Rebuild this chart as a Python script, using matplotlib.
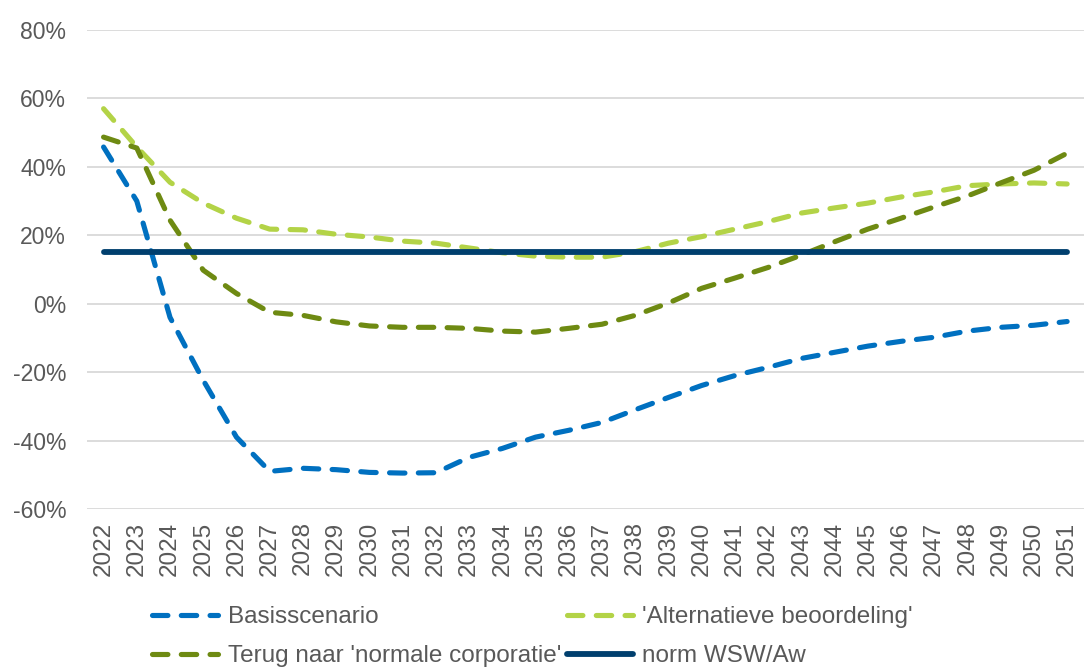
import matplotlib.pyplot as plt
from matplotlib.ticker import FuncFormatter

plt.rcParams['font.family'] = ['Liberation Sans', 'DejaVu Sans']

years = list(range(2022, 2052))

basis = [45.8, 30.0, -4.0, -22.4, -39.0, -49.0, -48.1, -48.5, -49.3, -49.5,
         -49.4, -44.9, -42.3, -39.0, -37.0, -34.7, -31.0, -27.4, -23.9, -21.0,
         -18.6, -16.0, -14.2, -12.4, -11.0, -9.8, -8.0, -6.9, -6.3, -5.2]

alternatief = [57.0, 45.8, 35.5, 29.4, 25.0, 21.8, 21.6, 20.3, 19.5, 18.3,
               17.7, 16.3, 14.9, 13.9, 13.6, 13.6, 15.2, 17.7, 19.6, 21.8,
               24.0, 26.5, 28.0, 29.4, 31.2, 32.7, 34.5, 35.0, 35.3, 35.0]

terug = [48.7, 45.5, 24.4, 9.8, 3.0, -2.5, -3.4, -5.3, -6.5, -6.9,
         -6.9, -7.2, -8.0, -8.3, -7.2, -6.0, -3.4, 0.2, 4.5, 7.5,
         10.6, 14.2, 18.1, 21.8, 25.0, 28.3, 31.5, 35.3, 39.0, 44.0]

norm = [15.0] * len(years)

labels = ["Basisscenario", "'Alternatieve beoordeling'",
          "Terug naar 'normale corporatie'", "norm WSW/Aw"]

grey = '#595959'

fig = plt.figure(figsize=(10.87, 6.70), dpi=100)
ax = fig.add_axes([0.080, 0.2403, 0.917, 0.7149])

x = list(range(len(years)))
dash = (3.0, 2.6)
l1, = ax.plot(x, basis, color='#0070C0', lw=3.7, dashes=dash,
              dash_capstyle='round')
l2, = ax.plot(x, alternatief, color='#B3D347', lw=3.7, dashes=dash,
              dash_capstyle='round')
l3, = ax.plot(x, terug, color='#6E8A12', lw=3.7, dashes=dash,
              dash_capstyle='round')
l4, = ax.plot(x, norm, color='#003F6E', lw=4.2, solid_capstyle='round')

ax.set_xlim(-0.5, len(years) - 0.5)
ax.set_ylim(-60, 80)
ax.set_yticks(range(-60, 81, 20))
ax.yaxis.set_major_formatter(FuncFormatter(lambda v, p: f"{v:.0f}%"))
ax.set_xticks(x)
ax.set_xticklabels([str(y) for y in years], rotation=90)

ax.grid(axis='y', color='#D9D9D9', lw=1.3)
ax.set_axisbelow(True)
for s in ax.spines.values():
    s.set_visible(False)
ax.tick_params(axis='both', length=0, labelsize=16.5, labelcolor=grey)
ax.tick_params(axis='y', pad=15)
ax.tick_params(axis='x', pad=9, labelsize=17.5)

# legend below the plot, two columns
leg = fig.legend([l1, l3, l2, l4], [labels[0], labels[2], labels[1], labels[3]],
                 ncol=2, loc='upper left', bbox_to_anchor=(0.140, 0.095),
                 frameon=False, fontsize=17.5, handlelength=2.7,
                 handletextpad=0.4, columnspacing=0.25, labelspacing=0.7,
                 borderaxespad=0, borderpad=0)
for t in leg.get_texts():
    t.set_color(grey)

fig.savefig('out.png', dpi=100)
